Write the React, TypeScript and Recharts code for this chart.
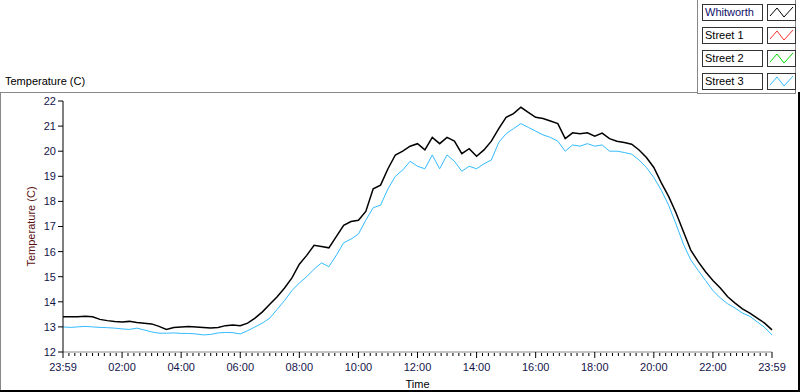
import React from 'react';
import { LineChart, Line, XAxis, YAxis } from 'recharts';

// readings every 15 minutes, 23:59 -> 23:59
const whitworth = [
  13.4, 13.4, 13.4, 13.42, 13.4, 13.3, 13.25, 13.22, 13.2, 13.22, 13.18, 13.15,
  13.12, 13.02, 12.9, 12.98, 13.0, 13.02, 13.0, 12.98, 12.96, 12.98, 13.05, 13.08,
  13.05, 13.15, 13.35, 13.6, 13.9, 14.2, 14.55, 14.95, 15.5, 15.85, 16.25, 16.2,
  16.15, 16.6, 17.05, 17.2, 17.25, 17.6, 18.5, 18.65, 19.3, 19.85, 20.0, 20.2,
  20.3, 20.05, 20.55, 20.3, 20.55, 20.4, 19.9, 20.1, 19.8, 20.05, 20.4, 20.9,
  21.35, 21.5, 21.75, 21.55, 21.35, 21.3, 21.2, 21.1, 20.5, 20.73, 20.7, 20.73,
  20.6, 20.72, 20.5, 20.4, 20.35, 20.28, 20.05, 19.75, 19.35, 18.75, 18.2, 17.55,
  16.8, 16.06, 15.6, 15.2, 14.85, 14.55, 14.2, 13.95, 13.72, 13.55, 13.35, 13.15,
  12.88,
];

const street3 = [
  13.0, 12.98, 13.0, 13.02, 13.0, 12.98, 12.97, 12.95, 12.92, 12.9, 12.95, 12.88,
  12.8, 12.75, 12.75, 12.76, 12.74, 12.74, 12.72, 12.68, 12.7, 12.76, 12.78, 12.77,
  12.72, 12.85, 13.0, 13.15, 13.35, 13.7, 14.05, 14.45, 14.75, 15.0, 15.3, 15.55,
  15.4, 15.85, 16.35, 16.5, 16.7, 17.25, 17.75, 17.85, 18.5, 19.0, 19.25, 19.6,
  19.4, 19.3, 19.85, 19.3, 19.85, 19.6, 19.2, 19.4, 19.3, 19.5, 19.65, 20.35,
  20.7, 20.9, 21.1, 20.95, 20.8, 20.65, 20.55, 20.4, 20.0, 20.25, 20.2, 20.3,
  20.2, 20.25, 20.0, 20.0, 19.95, 19.88, 19.65, 19.35, 18.95, 18.45, 17.85, 17.1,
  16.3, 15.67, 15.25, 14.85, 14.45, 14.15, 13.92, 13.75, 13.55, 13.42, 13.2, 12.98,
  12.68,
];

const yTicks = [12, 13, 14, 15, 16, 17, 18, 19, 20, 21, 22];
const legendNames = ['Whitworth', 'Street 1', 'Street 2', 'Street 3'];
const legendColors = ['#000000', '#ff3030', '#00dd00', '#33bbff'];

const data = whitworth.map((v, i) => ({ t: i * 0.25, whitworth: v, street3: street3[i] }));
const xTicks = Array.from({ length: 121 }, (_, i) => i / 5);

const FONT = '"Liberation Sans", Arial, sans-serif';
const TICK_COLOR = '#14144a';

const TimeTick = (props: any) => {
  const { x, y, payload } = props;
  const v = payload.value;
  const major = Math.abs(v - Math.round(v)) < 1e-6 && Math.round(v) % 2 === 0;
  if (!major) {
    return <line x1={x} x2={x} y1={y + 1} y2={y + 4} stroke="#000" strokeWidth={1} />;
  }
  const h = Math.round(v);
  const label = h === 0 || h === 24 ? '23:59' : `${String(h).padStart(2, '0')}:00`;
  return (
    <g>
      <line x1={x} x2={x} y1={y} y2={y + 6} stroke="#000" strokeWidth={1} />
      <text x={x} y={y + 19} textAnchor="middle" fill={TICK_COLOR} fontSize={11} fontFamily={FONT}>
        {label}
      </text>
    </g>
  );
};

// rotated y axis title, centred on the plot area
const YTitle = (props: any) => {
  const vb = props.viewBox || {};
  const cx = 31;
  const cy = 101 + 251 / 2;
  return (
    <text
      x={cx}
      y={cy}
      transform={`rotate(-90, ${cx}, ${cy})`}
      textAnchor="middle"
      dominantBaseline="central"
      fill="#5a1010"
      fontSize={11}
      fontFamily={FONT}
      data-vb={vb.x}
    >
      Temperature (C)
    </text>
  );
};

const Swatch = ({ color }: { color: string }) => (
  <svg width={27} height={15} style={{ display: 'block' }}>
    <polyline points="2,11 9,3 16,12 25,2" fill="none" stroke={color} strokeWidth={1} />
  </svg>
);

const App = () => {
  return (
    <div
      style={{
        position: 'absolute',
        left: 0,
        top: 0,
        width: 800,
        height: 392,
        background: '#fff',
        fontFamily: FONT,
        overflow: 'hidden',
      }}
    >
      {/* title */}
      <div style={{ position: 'absolute', left: 5, top: 75, fontSize: 11, color: '#000' }}>
        Temperature (C)
      </div>
      {/* frame lines */}
      <div style={{ position: 'absolute', left: 0, top: 92, width: 697, height: 1, background: '#888' }} />
      <div style={{ position: 'absolute', left: 0, top: 92, width: 1, height: 300, background: '#888' }} />
      <div style={{ position: 'absolute', left: 0, top: 390, width: 800, height: 2, background: '#000' }} />
      <div style={{ position: 'absolute', left: 798, top: 92, width: 2, height: 300, background: '#000' }} />
      {/* legend panel */}
      <div
        style={{
          position: 'absolute',
          left: 697,
          top: 0,
          width: 99,
          height: 94,
          borderRight: '1px solid #888',
          borderBottom: '1px solid #888',
          borderLeft: '1px solid #888',
          boxSizing: 'border-box',
        }}
      >
        {legendNames.map((name, i) => (
          <div key={name} style={{ position: 'absolute', left: 4, top: 4 + i * 23 }}>
            <div
              style={{
                position: 'absolute',
                left: 0,
                top: 0,
                width: 61,
                height: 17,
                border: '1px solid #333',
                boxSizing: 'border-box',
                fontSize: 11,
                lineHeight: '15px',
                paddingLeft: 2,
                color: i === 0 ? '#10106a' : '#000',
                whiteSpace: 'nowrap',
              }}
            >
              {name}
            </div>
            <div
              style={{
                position: 'absolute',
                left: 65,
                top: 0,
                width: 29,
                height: 17,
                border: '1px solid #333',
                boxSizing: 'border-box',
              }}
            >
              <Swatch color={legendColors[i]} />
            </div>
          </div>
        ))}
      </div>

      <div style={{ position: 'absolute', left: 0, top: 0 }}>
        <LineChart width={800} height={392} data={data} margin={{ top: 101, right: 28, bottom: 0, left: 0 }}>
          <XAxis
            dataKey="t"
            type="number"
            domain={[0, 24]}
            ticks={xTicks}
            interval={0}
            tickLine={false}
            tickSize={0}
            tickMargin={0}
            height={40}
            axisLine={{ stroke: '#888' }}
            tick={(p: any) => <TimeTick {...p} />}
            label={{ value: 'Time', position: 'insideBottom', offset: 4, fill: '#000', fontSize: 11, fontFamily: FONT }}
          />
          <XAxis
            xAxisId="top"
            orientation="top"
            type="number"
            domain={[0, 24]}
            height={0}
            tick={false}
            tickLine={false}
            axisLine={{ stroke: '#000' }}
          />
          <YAxis
            type="number"
            domain={[12, 22]}
            ticks={yTicks}
            interval={0}
            width={63}
            tickSize={5}
            tickMargin={2}
            tickLine={{ stroke: '#000' }}
            axisLine={{ stroke: '#000' }}
            tick={{ fill: TICK_COLOR, fontSize: 11, fontFamily: FONT }}
            label={{ content: (p: any) => <YTitle {...p} /> }}
          />
          <YAxis
            yAxisId="right"
            orientation="right"
            type="number"
            domain={[12, 22]}
            width={0}
            tick={false}
            tickLine={false}
            axisLine={{ stroke: '#888' }}
          />
          <Line
            type="linear"
            dataKey="street3"
            stroke="#33bbff"
            strokeWidth={1}
            dot={false}
            isAnimationActive={false}
          />
          <Line
            type="linear"
            dataKey="whitworth"
            stroke="#000000"
            strokeWidth={1.5}
            dot={false}
            isAnimationActive={false}
          />
        </LineChart>
      </div>
    </div>
  );
};

export default App;
